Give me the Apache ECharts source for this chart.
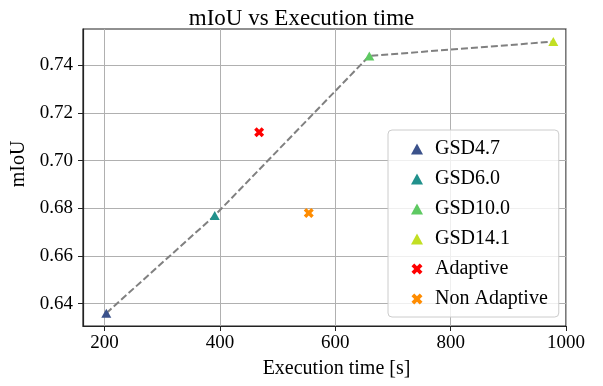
<!DOCTYPE html>
<html><head><meta charset="utf-8">
<script src="https://cdn.jsdelivr.net/npm/echarts@6/dist/echarts.min.js"></script>
<style>html,body{margin:0;padding:0;background:#fff}#c{width:603px;height:386px}</style>
</head><body><div id="c"></div>
<script>
const gsdNames = ['GSD4.7', 'GSD6.0', 'GSD10.0', 'GSD14.1'];
const gsdTime = [203, 391, 659, 978];
const gsdMiou = [0.636, 0.677, 0.744, 0.750];
const adaptiveTime = [468];
const adaptiveMiou = [0.712];
const nonAdaptiveTime = [554];
const nonAdaptiveMiou = [0.678];
const xTicks = [200, 400, 600, 800, 1000];
const yTicks = [0.64, 0.66, 0.68, 0.70, 0.72, 0.74];

const gsdColors = ['#3b528b', '#21918c', '#5ec962', '#c2df23'];
const FONT = '"Liberation Serif", "DejaVu Serif", serif';
const XPATH = 'path://M-1,-0.5L-0.5,-1L0,-0.5L0.5,-1L1,-0.5L0.5,0L1,0.5L0.5,1L0,0.5L-0.5,1L-1,0.5L-0.5,0Z';

const series = [];
series.push({
  type: 'line', name: '_trend',
  data: gsdTime.map((t, i) => [t, gsdMiou[i]]),
  showSymbol: false, symbol: 'none',
  lineStyle: { color: '#808080', width: 2, type: [7, 3] },
  z: 2, silent: true
});
gsdNames.forEach((n, i) => {
  series.push({
    type: 'scatter', name: n,
    data: [[gsdTime[i], gsdMiou[i]]],
    symbol: 'triangle', symbolSize: [10, 9],
    itemStyle: { color: gsdColors[i], opacity: 1 },
    z: 3
  });
});
series.push({
  type: 'scatter', name: 'Adaptive',
  data: adaptiveTime.map((t, i) => [t, adaptiveMiou[i]]),
  symbol: XPATH, symbolSize: 10,
  itemStyle: { color: '#ff0000', opacity: 1 }, z: 3
});
series.push({
  type: 'scatter', name: 'Non Adaptive',
  data: nonAdaptiveTime.map((t, i) => [t, nonAdaptiveMiou[i]]),
  symbol: XPATH, symbolSize: 10,
  itemStyle: { color: '#ff8c00', opacity: 1 }, z: 3
});

const chart = echarts.init(document.getElementById('c'), null, { renderer: 'canvas' });
chart.setOption({
  animation: false,
  backgroundColor: '#fff',
  title: {
    text: 'mIoU vs Execution time', left: 'center', top: 2,
    textStyle: { fontFamily: FONT, fontSize: 23, fontWeight: 'normal', color: '#000' }
  },
  grid: { left: 83, right: 37, top: 29, bottom: 60, show: true, borderColor: '#222', borderWidth: 1.2, backgroundColor: 'transparent' },
  legend: {
    orient: 'vertical', left: 388, top: 130,
    data: gsdNames.concat(['Adaptive', 'Non Adaptive']),
    itemWidth: 12, itemHeight: 11, itemGap: 10,
    padding: [9, 11, 8, 23],
    backgroundColor: 'rgba(255,255,255,0.8)', borderColor: '#cccccc', borderWidth: 1, borderRadius: 4,
    textStyle: { fontFamily: FONT, fontSize: 20, color: '#000', lineHeight: 20, padding: [0, 0, 0, 7] },
    selectedMode: false, z: 10
  },
  xAxis: {
    type: 'value', min: 162.6, max: 1000,
    name: 'Execution time [s]', nameLocation: 'middle', nameGap: 33,
    nameTextStyle: { fontFamily: FONT, fontSize: 20, color: '#000', padding: [0, 0, 0, 24] },
    axisLine: { show: true, lineStyle: { color: '#222', width: 1.2 } },
    axisTick: { show: true, length: 5, customValues: xTicks, lineStyle: { color: '#222' } },
    axisLabel: { customValues: xTicks, margin: 8, fontFamily: FONT, fontSize: 19, color: '#000', formatter: v => String(Math.round(v)) },
    splitLine: { show: true, lineStyle: { color: '#b0b0b0', width: 1 } }
  },
  yAxis: {
    type: 'value', min: 0.6306, max: 0.7553,
    name: 'mIoU', nameLocation: 'middle', nameGap: 52,
    nameTextStyle: { fontFamily: FONT, fontSize: 20, color: '#000', padding: [0, 0, 0, 27] },
    axisLine: { show: true, lineStyle: { color: '#222', width: 1.2 } },
    axisTick: { show: true, length: 5, customValues: yTicks, lineStyle: { color: '#222' } },
    axisLabel: { customValues: yTicks, margin: 10, fontFamily: FONT, fontSize: 19, color: '#000', formatter: v => Number(v).toFixed(2) },
    splitLine: { show: true, lineStyle: { color: '#b0b0b0', width: 1 } }
  },
  series: series
});
</script>
</body></html>
